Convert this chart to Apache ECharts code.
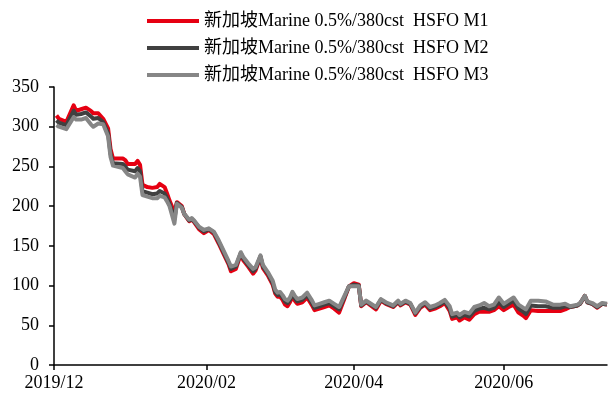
<!DOCTYPE html>
<html>
<head>
<meta charset="utf-8">
<script src="https://cdn.jsdelivr.net/npm/echarts@6/dist/echarts.min.js"></script>
<style>
  html, body { margin: 0; padding: 0; background: #fff; }
  #chart { width: 611px; height: 394px; }
</style>
</head>
<body>
<div id="chart"></div>
<script>
// Singapore Marine 0.5% vs 380cst HSFO spread, M1-M3 (USD/t)
const dates = [
  '2019-12-02','2019-12-03','2019-12-06','2019-12-09','2019-12-10','2019-12-12','2019-12-14','2019-12-16',
  '2019-12-17','2019-12-19','2019-12-21','2019-12-23','2019-12-24','2019-12-25','2019-12-29','2019-12-30',
  '2019-12-31','2020-01-03','2020-01-04','2020-01-05','2020-01-06','2020-01-08','2020-01-10','2020-01-12',
  '2020-01-13','2020-01-15','2020-01-16','2020-01-17','2020-01-19','2020-01-20','2020-01-22','2020-01-23',
  '2020-01-25','2020-01-26','2020-01-27','2020-01-29','2020-01-31','2020-02-02','2020-02-04','2020-02-06',
  '2020-02-08','2020-02-10','2020-02-11','2020-02-13','2020-02-15','2020-02-16','2020-02-18','2020-02-20',
  '2020-02-21','2020-02-23','2020-02-24','2020-02-26','2020-02-28','2020-02-29','2020-03-01','2020-03-02',
  '2020-03-03','2020-03-04','2020-03-05','2020-03-06','2020-03-07','2020-03-08','2020-03-09','2020-03-11',
  '2020-03-13','2020-03-15','2020-03-16','2020-03-18','2020-03-20','2020-03-22','2020-03-24','2020-03-26',
  '2020-03-28','2020-03-30','2020-04-01','2020-04-03','2020-04-04','2020-04-06','2020-04-07','2020-04-10',
  '2020-04-12','2020-04-14','2020-04-17','2020-04-19','2020-04-20','2020-04-22','2020-04-24','2020-04-26',
  '2020-04-28','2020-04-30','2020-05-02','2020-05-04','2020-05-06','2020-05-08','2020-05-10','2020-05-11',
  '2020-05-13','2020-05-14','2020-05-16','2020-05-18','2020-05-20','2020-05-22','2020-05-24','2020-05-26',
  '2020-05-28','2020-05-30','2020-06-01','2020-06-03','2020-06-05','2020-06-07','2020-06-09','2020-06-10',
  '2020-06-12','2020-06-15','2020-06-18','2020-06-21','2020-06-24','2020-06-26','2020-06-28','2020-07-01',
  '2020-07-02','2020-07-04','2020-07-05','2020-07-07','2020-07-09','2020-07-11','2020-07-13'
];

const m1 = [
  314,310,306,327,320,322,324,320, 317,317,310,298,272,260,260,258,
  253,253,257,252,227,224,223,224, 228,224,216,207,192,205,200,190,
  181,183,180,171,166,170,165,153, 140,127,118,121,140,132,124,115,
  119,136,122,113,101,90,86,86,    82,76,74,79,86,81,77,79,
  85,75,69,71,73,75,71,66,         82,99,103,101,74,79,77,70,
  81,77,73,79,75,79,76,63,         72,76,69,71,74,78,68,58,
  60,56,60,57,64,67,67,67,         69,74,69,73,76,66,62,59,
  69,68,68,68,68,70,73,75,         77,87,79,77,72,77,76
];

const m2 = [
  308,305,302,320,315,316,318,313, 310,311,306,292,266,254,253,250,
  246,244,248,244,219,217,215,216, 219,216,210,203,184,204,199,190,
  182,184,181,173,168,171,167,155, 142,129,121,124,141,134,126,118,
  121,137,124,115,103,92,88,89,    85,80,78,82,89,84,80,82,
  88,78,72,74,76,78,74,70,         84,99,101,100,75,80,78,72,
  82,78,74,80,76,80,77,65,         73,78,71,73,76,80,71,61,
  63,60,63,61,68,71,72,70,         72,79,73,77,81,71,67,64,
  75,74,74,72,72,74,73,75,         77,87,79,77,73,77,76
];

const m3 = [
  302,300,297,312,309,309,311,303, 300,304,303,288,262,251,248,244,
  240,236,241,237,214,212,210,210, 213,211,206,200,178,203,198,190,
  183,185,182,174,170,172,168,157, 144,131,124,126,142,136,128,121,
  123,138,126,117,106,95,91,92,    88,83,81,85,92,87,83,85,
  91,81,75,77,79,81,77,73,         86,99,99,99,76,81,79,73,
  83,79,75,81,77,81,78,66,         75,79,73,75,78,82,74,64,
  66,63,67,65,73,75,78,74,         76,85,77,81,85,76,72,70,
  81,81,80,76,76,77,74,76,         78,87,80,78,74,78,77
];

const seriesNames = [
  '新加坡Marine 0.5%/380cst  HSFO M1',
  '新加坡Marine 0.5%/380cst  HSFO M2',
  '新加坡Marine 0.5%/380cst  HSFO M3'
];
const seriesColors = ['#e60012', '#404040', '#868686'];

// labelled month ticks on the date axis
const monthTicks = ['2019-12-01', '2020-02-01', '2020-04-01', '2020-06-01'];
const axisStart = '2019-12-01';
const axisEnd = '2020-07-13';

const toTime = s => {
  const p = s.split('-').map(Number);
  return Date.UTC(p[0], p[1] - 1, p[2]);
};
const pad2 = n => (n < 10 ? '0' : '') + n;

const font = "'Times New Roman', 'Liberation Serif', 'Noto Sans CJK SC', serif";

const chart = echarts.init(document.getElementById('chart'), null, { renderer: 'canvas' });

const lineSeries = [m1, m2, m3].map((vals, k) => ({
  name: seriesNames[k],
  type: 'line',
  data: dates.map((d, i) => [toTime(d), vals[i]]),
  showSymbol: false,
  symbol: 'none',
  lineStyle: { width: 4, color: seriesColors[k], join: 'round' },
  itemStyle: { color: seriesColors[k] },
  z: 2 + k,
  animation: false
}));

chart.setOption({
  backgroundColor: '#ffffff',
  animation: false,
  textStyle: { fontFamily: font },
  legend: {
    orient: 'vertical',
    left: 142,
    top: 7,
    itemWidth: 52,
    itemHeight: 4,
    itemGap: 9,
    icon: 'rect',
    textStyle: { fontFamily: font, fontSize: 18, color: '#000', lineHeight: 18 },
    data: seriesNames
  },
  grid: {
    left: 54,
    right: 4,
    top: 87,
    bottom: 29,
    containLabel: false,
    outerBoundsMode: 'none'
  },
  xAxis: {
    type: 'value',
    min: toTime(axisStart),
    max: toTime(axisEnd),
    axisLine: { show: true, lineStyle: { color: '#000', width: 1.5 } },
    axisTick: {
      show: true,
      length: 5,
      inside: false,
      lineStyle: { color: '#000', width: 1.5 },
      customValues: monthTicks.map(toTime)
    },
    axisLabel: {
      show: true,
      margin: 9,
      fontSize: 18,
      fontFamily: font,
      color: '#000',
      showMinLabel: true,
      customValues: monthTicks.map(toTime),
      formatter: v => {
        const d = new Date(v);
        return d.getUTCFullYear() + '/' + pad2(d.getUTCMonth() + 1);
      }
    },
    splitLine: { show: false }
  },
  yAxis: {
    type: 'value',
    min: 0,
    max: 350,
    interval: 50,
    axisLine: { show: true, lineStyle: { color: '#000', width: 1.5 } },
    axisTick: { show: true, length: 5, inside: false, lineStyle: { color: '#000', width: 1.5 } },
    axisLabel: { margin: 15, fontSize: 18, fontFamily: font, color: '#000' },
    splitLine: { show: false }
  },
  series: lineSeries
});
</script>
</body>
</html>
